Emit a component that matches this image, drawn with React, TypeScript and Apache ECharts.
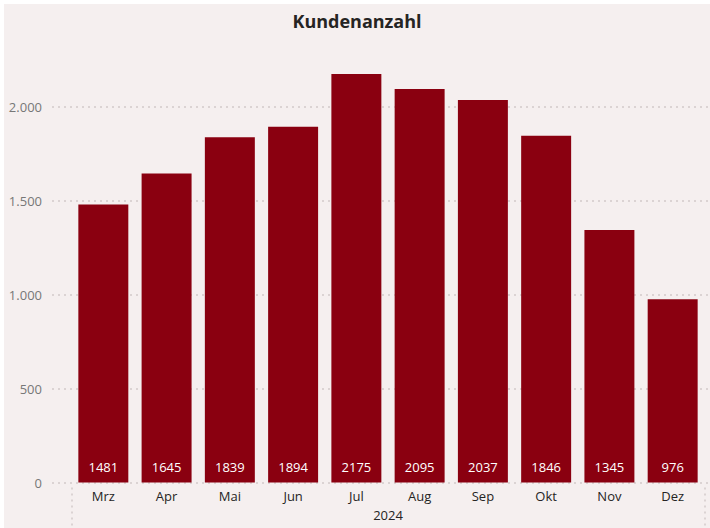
import React, { useEffect, useRef } from "react";
import * as echarts from "echarts";

const months = ["Mrz", "Apr", "Mai", "Jun", "Jul", "Aug", "Sep", "Okt", "Nov", "Dez"];
const customers = [1481, 1645, 1839, 1894, 2175, 2095, 2037, 1846, 1345, 976];
const yearLabels = ["2024"];
const yTicks = [0, 500, 1000, 1500, 2000];

const FONT = "'Open Sans', 'Noto Sans', sans-serif";

const fmt = (v: number) => String(v).replace(/\B(?=(\d{3})+(?!\d))/g, ".");

const dotted = { type: [2, 4], color: "#d2caca", width: 1.5 };

export default function App() {
  const ref = useRef<HTMLDivElement>(null);
  useEffect(() => {
    if (!ref.current) return;
    const chart = echarts.init(ref.current, undefined, { renderer: "svg" });
    const gridTop = 56;
    const gridBottom = 45.5;
    const yMax = 2250;
    chart.setOption({
      animation: false,
      backgroundColor: "#f5efef",
      textStyle: { fontFamily: FONT },
      title: {
        text: "Kundenanzahl",
        left: "center",
        top: 3,
        textStyle: { fontSize: 18, fontWeight: "bold", color: "#252423", fontFamily: FONT },
      },
      grid: [
        { left: 48, right: 2, top: gridTop, bottom: gridBottom },
        { left: 67.7, right: 5.7, top: gridTop, bottom: gridBottom },
      ],
      xAxis: [
        { type: "value", gridIndex: 0, show: false, min: 0, max: 1 },
        {
          type: "category",
          gridIndex: 1,
          data: months,
          axisLine: { show: false },
          axisTick: { show: false },
          axisLabel: { color: "#252423", fontSize: 13, margin: 7, fontFamily: FONT },
        },
        {
          type: "category",
          gridIndex: 1,
          position: "bottom",
          offset: 5,
          data: yearLabels,
          axisLine: { show: false },
          axisTick: {
            show: true,
            length: 45,
            lineStyle: dotted,
          },
          axisLabel: { color: "#252423", fontSize: 13, margin: 21, fontFamily: FONT },
        },
      ],
      yAxis: [
        {
          type: "value",
          gridIndex: 0,
          min: 0,
          max: yMax,
          interval: 500,
          axisLine: { show: false },
          axisTick: { show: false },
          axisLabel: {
            color: "#777",
            fontSize: 13,
            margin: 10,
            showMaxLabel: false,
            fontFamily: FONT,
            formatter: (v: number) => (yTicks.includes(v) ? fmt(v) : ""),
          },
          splitLine: {
            show: true,
            showMaxLine: false,
            lineStyle: dotted,
          },
        },
        { type: "value", gridIndex: 1, min: 0, max: yMax, show: false },
      ],
      series: [
        {
          type: "bar",
          xAxisIndex: 1,
          yAxisIndex: 1,
          data: customers,
          barCategoryGap: "21%",
          itemStyle: { color: "#8a0010" },
          label: {
            show: true,
            position: "insideBottom",
            distance: 9,
            color: "#fff",
            fontSize: 13,
            fontFamily: FONT,
          },
        },
      ],
    });
    return () => chart.dispose();
  }, []);
  return (
    <div style={{ position: "fixed", left: 0, top: 0, width: 710, height: 528, background: "#fff" }}>
      <div ref={ref} style={{ position: "absolute", left: 4, top: 4, width: 706, height: 524 }} />
    </div>
  );
}
